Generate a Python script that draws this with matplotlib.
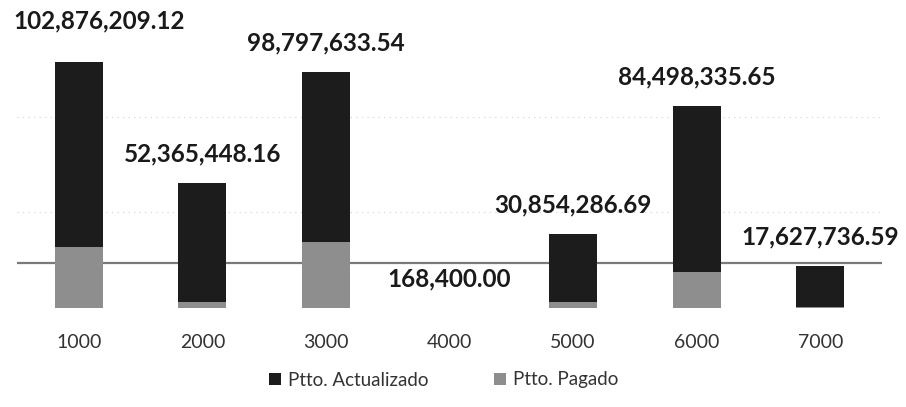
import matplotlib
matplotlib.use('AGG')

import numpy as np
import matplotlib.pyplot as plt

# Capitulos del gasto
categorias = ['1000', '2000', '3000', '4000', '5000', '6000', '7000']
# Presupuesto actualizado (valores de las etiquetas)
actualizado = [102876209.12, 52365448.16, 98797633.54, 168400.00,
               30854286.69, 84498335.65, 17627736.59]
# Presupuesto pagado (estimado a partir de la imagen)
pagado = [25500000, 2500000, 27600000, 0, 2500000, 15000000, 400000]
etiquetas = ['102,876,209.12', '52,365,448.16', '98,797,633.54', '168,400.00',
             '30,854,286.69', '84,498,335.65', '17,627,736.59']

plt.rcParams['font.family'] = ['Lato', 'DejaVu Sans']

fig = plt.figure(figsize=(9.06, 4.07), dpi=100)
ax = fig.add_axes([17/906, 99/407, 865/906, 298/407])

x = np.arange(len(categorias))
w = 0.39
ax.bar(x, actualizado, w, color='#1c1c1c', label='Ptto. Actualizado', zorder=2)
ax.bar(x, pagado, w, color='#8e8e8e', label='Ptto. Pagado', zorder=3)

# linea horizontal gris del original
ax.axhline(18.8e6, color='#7a7a7a', linewidth=1.6, zorder=1)
for g in [40e6, 80e6]:
    ax.axhline(g, color='#d0d0d0', linewidth=0.8, linestyle=(0, (1, 4)), zorder=0)

for i, (v, t) in enumerate(zip(actualizado, etiquetas)):
    dx, dy = (0, 21)
    if i == 0:
        dx, dy = (15, 30)
    ax.annotate(t, (x[i], v), xytext=(dx, dy), textcoords='offset points',
                ha='center', va='center', fontsize=17.5, fontweight='bold',
                color='#1a1a1a')

ax.set_xlim(-0.5, len(categorias) - 0.5)
ax.set_ylim(0, 298 / 2.39 * 1e6)
ax.set_xticks(x)
ax.set_xticklabels(categorias, fontsize=14, color='#333333')
ax.tick_params(axis='x', length=0, pad=19)
ax.set_yticks([])
for s in ax.spines.values():
    s.set_visible(False)

fig.legend(loc='center', bbox_to_anchor=(0.49, 1 - 380/407), ncol=2,
           frameon=False, fontsize=13.5, handlelength=0.6, handleheight=0.6,
           columnspacing=3.5, handletextpad=0.4, labelcolor='#333333')

plt.savefig('out.png', dpi=100)
